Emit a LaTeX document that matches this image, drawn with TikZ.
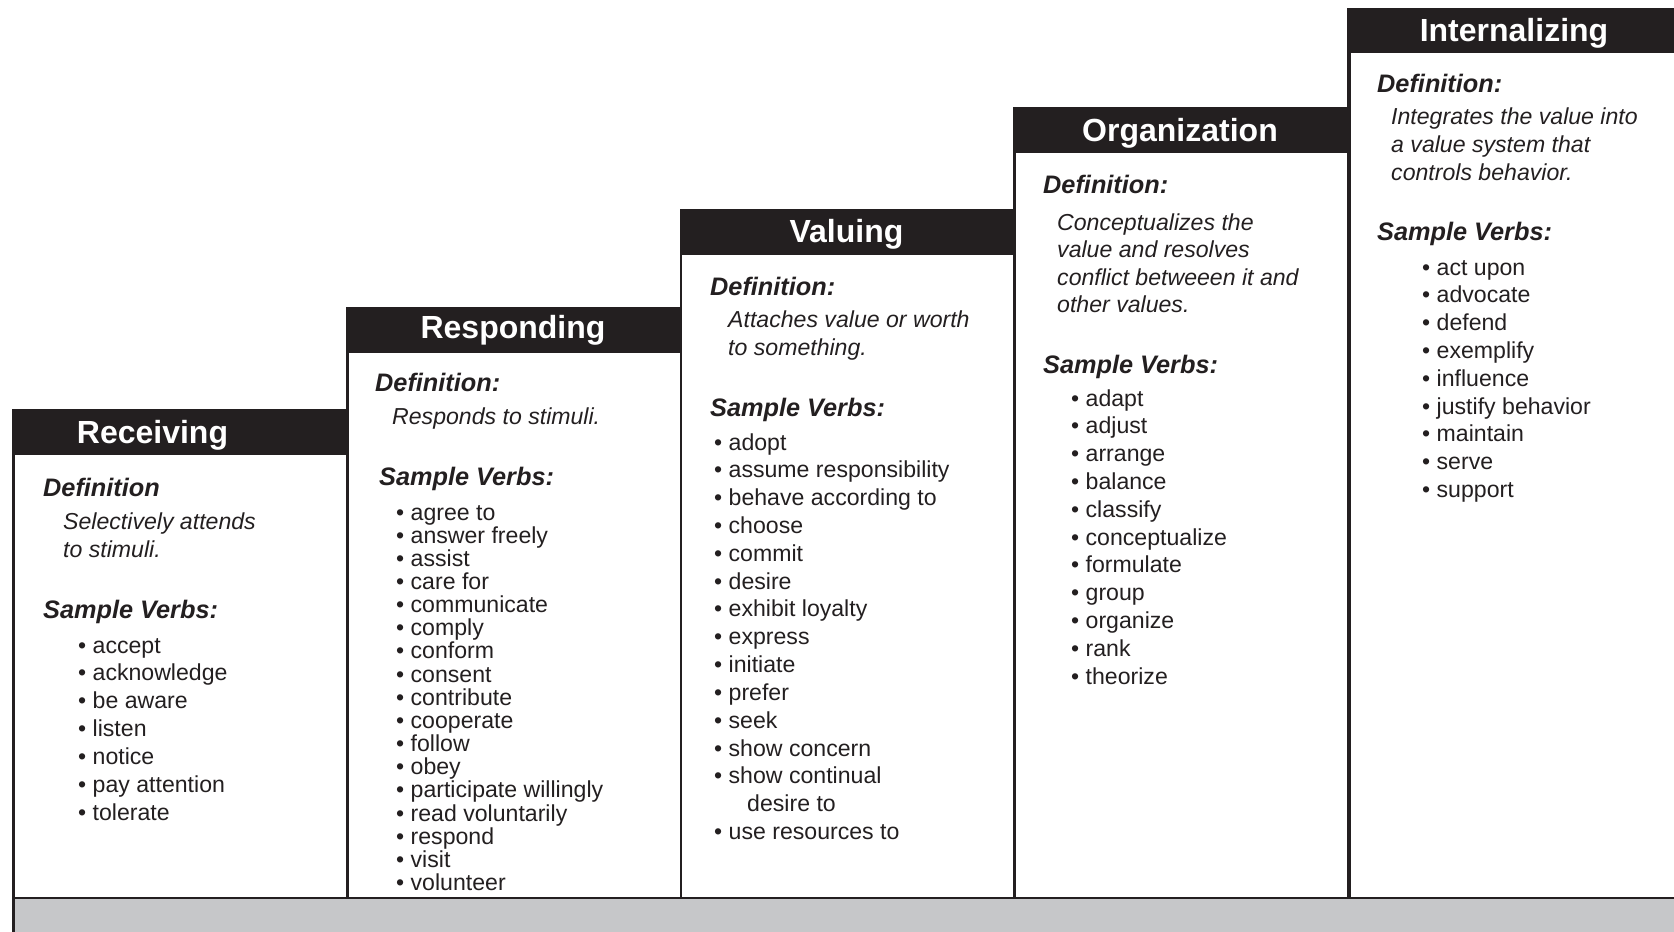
\documentclass[tikz,border=0pt]{standalone}
\usepackage{fontspec}
\setmainfont{Liberation Sans}
\definecolor{ink}{HTML}{231F20}
\definecolor{barfill}{HTML}{C6C7C9}
\tikzset{
  colline/.style={draw=ink, line width=2.6pt},
  headfill/.style={fill=ink},
  titletext/.style={text=white, font=\fontsize{32}{38}\selectfont\bfseries, anchor=base, inner sep=0pt},
  lbltext/.style={text=ink, font=\fontsize{25.3}{30}\selectfont\bfseries\itshape, anchor=base west, inner sep=0pt},
  deftext/.style={text=ink, font=\fontsize{23.1}{28}\selectfont\itshape, anchor=base west, inner sep=0pt},
  verbtext/.style={text=ink, font=\fontsize{23.1}{28}\selectfont, anchor=base west, inner sep=0pt},
}
\begin{document}
\begin{tikzpicture}[x=1pt,y=-1pt]
\useasboundingbox (0,0) rectangle (1674,932);
% grey base bar
\fill[barfill] (13,898) rectangle (1674,932);
% headers
\fill[headfill] (13,409) rectangle (347,455);
\fill[headfill] (347,307) rectangle (681,353);
\fill[headfill] (681,209) rectangle (1014,255);
\fill[headfill] (1014,107) rectangle (1348,153);
\fill[headfill] (1348,8) rectangle (1674,53);
% column lines
\draw[colline] (13.5,409) -- (13.5,932);
\draw[colline] (347.5,307) -- (347.5,898);
\draw[colline] (681,209) -- (681,898);
\draw[colline] (1014.5,107) -- (1014.5,898);
\draw[colline, line width=3.6pt] (1349,8) -- (1349,898);
\draw[colline] (13,898) -- (1674,898);
% titles
\node[titletext] (t1) at (152.5,443.5) {Receiving};
\node[titletext] (t2) at (513,338) {Responding};
\node[titletext] (t3) at (846.5,242.5) {Valuing};
\node[titletext] (t4) at (1180,141) {Organization};
\node[titletext] (t5) at (1514,41) {Internalizing};
% Receiving
\node[lbltext] (d1) at (43,496) {Definition};
\node[deftext] (d1a) at (63,529) {Selectively attends};
\node[deftext] (d1b) at (63,557) {to stimuli.};
\node[lbltext] (s1) at (43,618) {Sample Verbs:};
\foreach \t [count=\k from 0] in {accept, acknowledge, be aware, listen, notice, pay attention, tolerate}
  \node[verbtext] (v1\k) at (78,{653+\k*27.85}) {• \t};
% Responding
\node[lbltext] (d2) at (375,391) {Definition:};
\node[deftext] (d2a) at (392,424) {Responds to stimuli.};
\node[lbltext] (s2) at (379,485) {Sample Verbs:};
\foreach \t [count=\k from 0] in {agree to, answer freely, assist, care for, communicate, comply, conform, consent, contribute, cooperate, follow, obey, participate willingly, read voluntarily, respond, visit, volunteer}
  \node[verbtext] (v2\k) at (396,{520+\k*23.16}) {• \t};
% Valuing
\node[lbltext] (d3) at (710,295) {Definition:};
\node[deftext] (d3a) at (728,327) {Attaches value or worth};
\node[deftext] (d3b) at (728,355) {to something.};
\node[lbltext] (s3) at (710,416) {Sample Verbs:};
\foreach \t [count=\k from 0] in {adopt, assume responsibility, behave according to, choose, commit, desire, exhibit loyalty, express, initiate, prefer, seek, show concern, show continual}
  \node[verbtext] (v3\k) at (714,{450+\k*27.83}) {• \t};
\node[verbtext] (v3c) at (747,{450+13*27.83}) {desire to};
\node[verbtext] (v3z) at (714,{450+14*27.83}) {• use resources to};
% Organization
\node[lbltext] (d4) at (1043,193) {Definition:};
\foreach \t [count=\k from 0] in {Conceptualizes the, value and resolves, conflict betweeen it and, other values.}
  \node[deftext] (d4\k) at (1057,{230+\k*27.5}) {\t};
\node[lbltext] (s4) at (1043,373) {Sample Verbs:};
\foreach \t [count=\k from 0] in {adapt, adjust, arrange, balance, classify, conceptualize, formulate, group, organize, rank, theorize}
  \node[verbtext] (v4\k) at (1071,{406+\k*27.8}) {• \t};
% Internalizing
\node[lbltext] (d5) at (1377,92) {Definition:};
\foreach \t [count=\k from 0] in {Integrates the value into, a value system that, controls behavior.}
  \node[deftext] (d5\k) at (1391,{124+\k*28}) {\t};
\node[lbltext] (s5) at (1377,240) {Sample Verbs:};
\foreach \t [count=\k from 0] in {act upon, advocate, defend, exemplify, influence, justify behavior, maintain, serve, support}
  \node[verbtext] (v5\k) at (1422,{275+\k*27.8}) {• \t};
\end{tikzpicture}
\end{document}
